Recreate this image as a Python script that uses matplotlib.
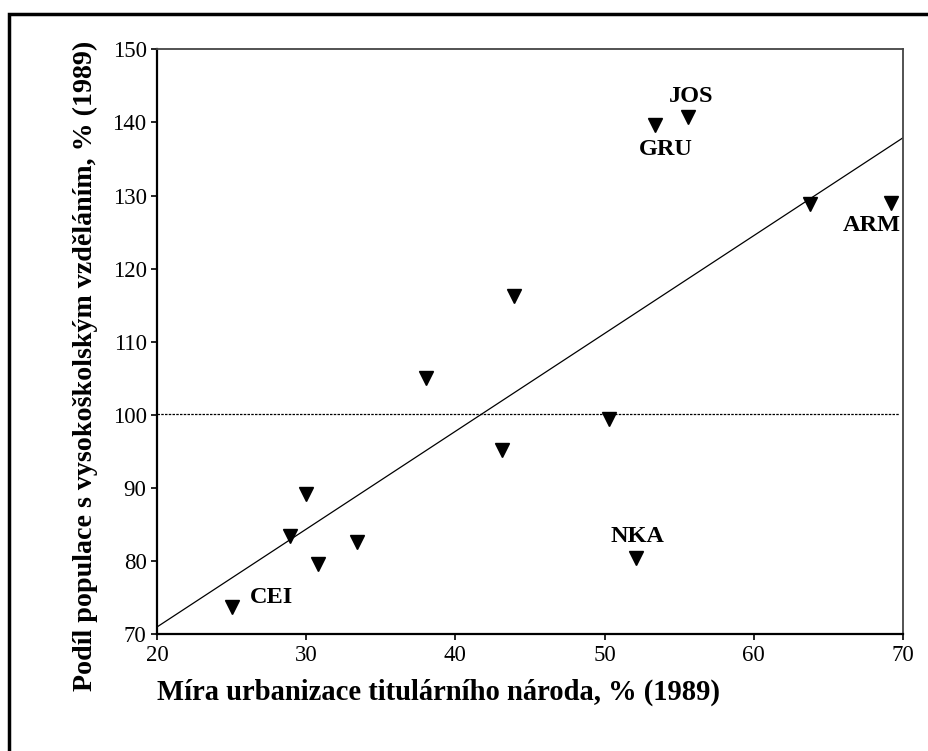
import matplotlib
matplotlib.use("Agg")
import matplotlib.pyplot as plt
from matplotlib.patches import Rectangle

# urbanizace (x) vs. podil VS vzdelani (y)
urban = [25.0, 28.9, 30.0, 30.8, 33.4, 38.0, 43.1, 43.9, 50.3, 52.1, 53.4, 55.6, 63.8, 69.2]
educ = [73.7, 83.5, 89.2, 79.6, 82.6, 105.1, 95.2, 116.2, 99.4, 80.5, 139.6, 140.7, 128.9, 129.0]
labels = ["CEI", "", "", "", "", "", "", "", "", "NKA", "GRU", "JOS", "", "ARM"]

# regresni primka
trend_x = [20, 70]
trend_y = [71.0, 137.9]
ref_level = 100.1

# posun popisku v pixelech
label_offset = {
    "CEI": (40, 10),
    "NKA": (2, 21),
    "GRU": (10, -24),
    "JOS": (3, 21),
    "ARM": (-19, -23),
}

plt.rcParams["font.family"] = ["Liberation Serif", "DejaVu Serif"]

fig = plt.figure(figsize=(9.29, 7.51), dpi=100)
ax = fig.add_axes([157 / 929, 1 - 634.3 / 751, 746 / 929, 585 / 751])

ax.plot(trend_x, trend_y, color="black", lw=0.9, zorder=2)
ax.plot([20, 69.7], [ref_level, ref_level], color="black", lw=0.9,
        linestyle=(0, (2, 1)), zorder=2)
ax.plot(urban, educ, linestyle="none", marker="v", ms=10,
        color="black", zorder=3)

for x, y, lab in zip(urban, educ, labels):
    if not lab:
        continue
    ax.annotate(lab, (x, y), xytext=label_offset[lab], textcoords="offset pixels",
                ha="center", va="center", fontsize=17.5, fontweight="bold")

ax.set_xlim(20, 70)
ax.set_ylim(70, 150)
ax.set_xticks(range(20, 71, 10))
ax.set_yticks(range(70, 151, 10))
ax.tick_params(labelsize=16.5, length=4.5, width=1.2, pad=3)

for side in ["left", "bottom"]:
    ax.spines[side].set_linewidth(1.6)
for side in ["top", "right"]:
    ax.spines[side].set_linewidth(1.3)
    ax.spines[side].set_color("#444444")

fig.text(157 / 929, 1 - 692 / 751, "Míra urbanizace titulárního národa, % (1989)",
         ha="left", va="center", fontsize=20.6, fontweight="bold")
fig.text(85 / 929, 1 - 366 / 751, "Podíl populace s vysokoškolským vzděláním, % (1989)",
         ha="center", va="center", rotation=90, fontsize=20.2, fontweight="bold")

fig.patches.append(Rectangle((9 / 929, -0.05), 1.1, 1 - 14 / 751 + 0.05,
                             transform=fig.transFigure, fill=False,
                             edgecolor="black", lw=2.5))

fig.savefig("out.png", dpi=100)
